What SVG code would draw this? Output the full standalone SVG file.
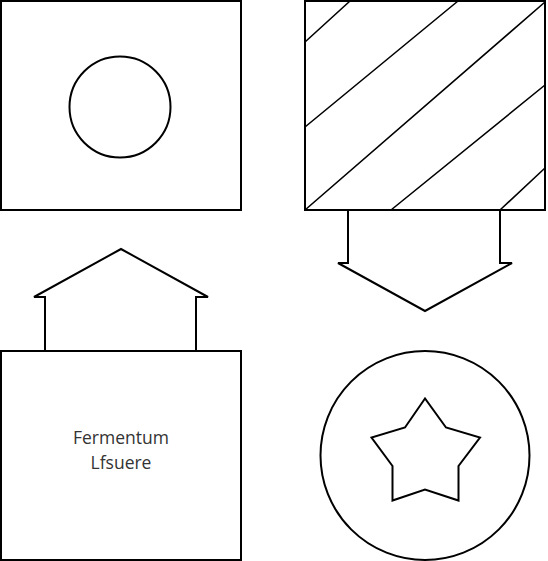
<svg xmlns="http://www.w3.org/2000/svg" width="548" height="561" viewBox="0 0 548 561">
<style>
.s{fill:#fff;stroke:#000;stroke-width:2}
.h{fill:none;stroke:#000;stroke-width:1.6}
.t{font-family:"Open Sans",sans-serif;font-size:17.5px;fill:#333;text-anchor:middle}
</style>
<rect width="548" height="561" fill="#fff"/>
<g id="connectors">
<path class="s" d="M45,351 L45,297 L34,297 L121,249 L208,297 L196,297 L196,351"/>
<path class="s" d="M348,210 L348,263 L338,263 L425,311 L512,263 L500,263 L500,210"/>
</g>
<g id="node-circle-box">
<rect class="s" x="1" y="1" width="240" height="209"/>
<circle class="s" cx="120" cy="107" r="50.5"/>
</g>
<g id="node-hatched">
<rect class="s" x="305" y="1" width="240" height="209"/>
<path class="h" d="M305,42 L350,1 M305,127 L458,1 M305,210 L545,2 M391,210 L545,85 M500,210 L545,168"/>
</g>
<g id="node-text">
<rect class="s" x="1" y="351" width="240" height="209"/>
<text class="t" x="121" y="444">Fermentum</text>
<text class="t" x="121" y="469">Lfsuere</text>
</g>
<g id="node-star">
<circle class="s" cx="425" cy="455.5" r="104.5"/>
<polygon class="s" points="425,398.5 405,427.5 371.5,437.5 392.5,466 392.5,500.5 425,489.5 458.5,500.5 458.5,466 480,437.5 446,427.5"/>
</g>
</svg>
